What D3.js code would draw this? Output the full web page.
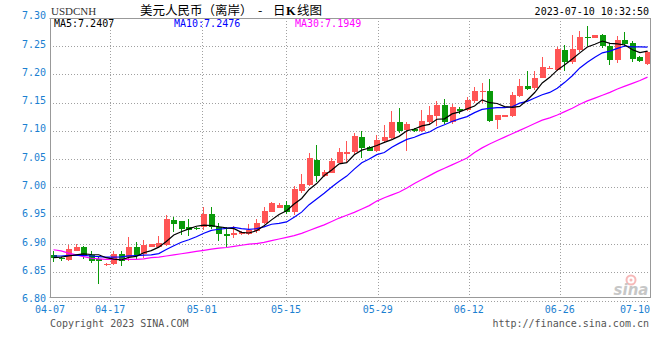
<!DOCTYPE html>
<html><head><meta charset="utf-8">
<script src="https://cdn.jsdelivr.net/npm/d3@7"></script>
<style>body{margin:0;background:#fff}svg{display:block}</style>
</head><body><svg id="c" width="660" height="360"></svg>
<script>
const opens = [6.881,6.875,6.872,6.888,6.894,6.880,6.873,6.864,6.865,6.882,
 6.878,6.895,6.882,6.895,6.895,6.899,6.942,6.940,6.931,6.928,
 6.931,6.953,6.931,6.917,6.916,6.918,6.918,6.924,6.938,6.957,
 6.964,6.969,6.956,6.994,7.005,7.049,7.021,7.026,7.044,7.060,
 7.062,7.090,7.072,7.065,7.082,7.088,7.116,7.102,7.103,7.100,
 7.116,7.126,7.146,7.116,7.139,7.137,7.153,7.168,7.171,7.119,
 7.124,7.126,7.162,7.180,7.175,7.194,7.210,7.208,7.243,7.222,
 7.243,7.266,7.265,7.270,7.250,7.225,7.261,7.256,7.231,7.219];
const highs = [6.888,6.877,6.898,6.900,6.897,6.888,6.879,6.867,6.888,6.887,
 6.913,6.903,6.907,6.900,6.914,6.952,6.948,6.941,6.944,6.930,
 6.965,6.965,6.937,6.930,6.932,6.924,6.935,6.944,6.966,6.975,
 6.972,6.976,7.003,7.024,7.061,7.075,7.031,7.053,7.069,7.082,
 7.096,7.100,7.073,7.093,7.110,7.135,7.141,7.116,7.105,7.137,
 7.144,7.153,7.156,7.148,7.143,7.160,7.178,7.184,7.191,7.128,
 7.128,7.168,7.191,7.205,7.205,7.230,7.214,7.249,7.252,7.269,
 7.277,7.285,7.270,7.272,7.255,7.268,7.275,7.258,7.233,7.242];
const lows = [6.869,6.871,6.871,6.887,6.873,6.866,6.829,6.862,6.863,6.862,
 6.871,6.873,6.875,6.894,6.893,6.897,6.922,6.916,6.914,6.925,
 6.925,6.926,6.906,6.894,6.910,6.916,6.916,6.920,6.935,6.956,
 6.963,6.954,6.952,6.990,7.002,7.010,7.019,7.025,7.043,7.044,
 7.059,7.053,7.064,7.063,7.078,7.085,7.097,7.065,7.098,7.098,
 7.112,7.109,7.113,7.113,7.130,7.136,7.149,7.150,7.116,7.103,
 7.124,7.124,7.160,7.172,7.172,7.193,7.209,7.205,7.205,7.219,
 7.240,7.250,7.264,7.246,7.216,7.220,7.249,7.222,7.222,7.216];
const closes = [6.876,6.873,6.891,6.894,6.879,6.871,6.871,6.865,6.882,6.871,
 6.894,6.879,6.898,6.900,6.902,6.944,6.936,6.927,6.925,6.926,
 6.954,6.931,6.917,6.915,6.920,6.921,6.925,6.938,6.958,6.972,
 6.969,6.957,6.998,7.007,7.052,7.021,7.028,7.046,7.062,7.062,
 7.091,7.069,7.065,7.084,7.090,7.115,7.100,7.112,7.100,7.117,
 7.128,7.146,7.116,7.143,7.135,7.155,7.171,7.170,7.118,7.128,
 7.128,7.163,7.180,7.174,7.194,7.213,7.212,7.244,7.222,7.245,
 7.266,7.264,7.269,7.250,7.225,7.261,7.254,7.227,7.224,7.239];
const ma5 = [6.876,6.877,6.879,6.881,6.8826,6.8816,6.8812,6.8760,6.8736,6.8720,
 6.8766,6.8782,6.8848,6.8884,6.8946,6.9046,6.9160,6.9218,6.9268,6.9316,
 6.9336,6.9326,6.9306,6.9286,6.9274,6.9208,6.9196,6.9238,6.9324,6.9428,
 6.9524,6.9588,6.9708,6.9806,6.9966,7.0070,7.0212,7.0308,7.0418,7.0438,
 7.0578,7.0660,7.0698,7.0742,7.0798,7.0846,7.0908,7.1002,7.1034,7.1088,
 7.1114,7.1206,7.1214,7.1300,7.1336,7.1390,7.1440,7.1548,7.1498,7.1484,
 7.1430,7.1414,7.1434,7.1546,7.1678,7.1848,7.1946,7.2074,7.2170,7.2272,
 7.2378,7.2482,7.2532,7.2588,7.2548,7.2538,7.2518,7.2434,7.2382,7.2410];
const ma10 = [6.879,6.879,6.880,6.880,6.880,6.879,6.878,6.877,6.877,6.8773,
 6.8791,6.8797,6.8804,6.8810,6.8833,6.8906,6.8971,6.9033,6.9076,6.9131,
 6.9191,6.9243,6.9262,6.9277,6.9295,6.9272,6.9261,6.9272,6.9305,6.9351,
 6.9366,6.9392,6.9473,6.9565,6.9697,6.9797,6.9900,7.0008,7.0112,7.0202,
 7.0324,7.0436,7.0503,7.0580,7.0618,7.0712,7.0784,7.0850,7.0888,7.0943,
 7.0980,7.1057,7.1108,7.1167,7.1212,7.1252,7.1323,7.1381,7.1399,7.1410,
 7.1410,7.1427,7.1491,7.1522,7.1581,7.1639,7.1680,7.1754,7.1858,7.1975,
 7.2113,7.2214,7.2303,7.2379,7.2410,7.2458,7.2500,7.2483,7.2485,7.2479];
const ma30 = [6.890,6.888,6.884,6.881,6.878,6.875,6.874,6.873,6.873,6.873,
 6.873,6.873,6.874,6.876,6.877,6.879,6.881,6.883,6.885,6.887,
 6.889,6.891,6.893,6.894,6.896,6.898,6.900,6.901,6.903,6.906,
 6.909,6.912,6.915,6.919,6.924,6.929,6.934,6.940,6.946,6.951,
 6.956,6.962,6.968,6.976,6.982,6.987,6.992,6.999,7.007,7.014,
 7.021,7.028,7.034,7.040,7.046,7.052,7.062,7.070,7.077,7.083,
 7.089,7.095,7.101,7.107,7.113,7.119,7.123,7.128,7.134,7.140,
 7.147,7.153,7.158,7.163,7.168,7.174,7.179,7.184,7.189,7.195];
const yTickValues = [6.80,6.85,6.90,6.95,7.00,7.05,7.10,7.15,7.20,7.25,7.30];
const yTickLabels = ["6.80","6.85","6.90","6.95","7.00","7.05","7.10","7.15","7.20","7.25","7.30"];
const xGridLabels = ["04-17","05-01","05-15","05-29","06-12","06-26"];
const xGridIndex = [7.6,19.8,31.0,43.2,55.3,67.4];
const xFirstLabel = "04-07";
const xLastLabel = "07-10";
const maLabels = ["MA5:7.2407","MA10:7.2476","MA30:7.1949"];
const symbolText = "USDCNH";
const titleParts = ["美元人民币（离岸）", "-", "日", "K", "线图"];
const timeText = "2023-07-10 10:32:50";

const svg = d3.select("#c");
const L = 50, R = 650, T = 18, B = 298;
const n = closes.length;
const x = d3.scaleLinear().domain([-0.4, n - 0.6]).range([L, R]);
const y = d3.scaleLinear().domain([6.80, 7.30]).range([300.7, 17.7]);
const mono = "'DejaVu Sans Mono', monospace";
const axisBlue = "#1b7fd1";

svg.append("rect").attr("width",660).attr("height",360).attr("fill","#fff");

// horizontal grid
svg.append("g").selectAll("line").data(yTickValues.filter(v => v < 7.29)).join("line")
  .attr("x1", L).attr("x2", R)
  .attr("y1", d => Math.round(y(d)) + 0.5).attr("y2", d => Math.round(y(d)) + 0.5)
  .attr("stroke", "#a0a0a0").attr("stroke-dasharray", "1,2");
// vertical grid
svg.append("g").selectAll("line").data(xGridIndex).join("line")
  .attr("x1", d => Math.round(x(d)) + 0.5).attr("x2", d => Math.round(x(d)) + 0.5)
  .attr("y1", T).attr("y2", 301)
  .attr("stroke", "#a0a0a0").attr("stroke-dasharray", "1,2");

// sina watermark
const wm = svg.append("g").attr("opacity", 0.55);
wm.append("circle").attr("cx", 631).attr("cy", 280).attr("r", 4.5).attr("fill", "none").attr("stroke", "#f08080").attr("stroke-width", 2);
wm.append("circle").attr("cx", 631).attr("cy", 280).attr("r", 1.5).attr("fill", "#f08080");
wm.append("text").attr("x", 631).attr("y", 295).attr("text-anchor", "middle")
  .attr("font-family", "'DejaVu Sans', sans-serif").attr("font-size", 15).attr("font-weight", "bold")
  .attr("font-style", "italic").attr("fill", "#9a9a9a").text("sina");

// frame
const frame = svg.append("g").attr("stroke", "#999").attr("fill", "none");
frame.append("line").attr("x1", L - 0.5).attr("x2", R + 0.5).attr("y1", T + 0.5).attr("y2", T + 0.5);
frame.append("line").attr("x1", L - 0.5).attr("x2", R + 0.5).attr("y1", B - 0.5).attr("y2", B - 0.5);
frame.append("line").attr("x1", L + 0.5).attr("x2", L + 0.5).attr("y1", T).attr("y2", B);
frame.append("line").attr("x1", R + 0.5).attr("x2", R + 0.5).attr("y1", T).attr("y2", B);

// clip
svg.append("clipPath").attr("id", "plot").append("rect").attr("x", L + 1).attr("y", T + 1).attr("width", R - L - 1).attr("height", B - T - 2);
const plot = svg.append("g").attr("clip-path", "url(#plot)");

const idx = d3.range(n);
const up = i => closes[i] >= opens[i];
const col = i => up(i) ? "#ff5555" : "#0a9a0a";
const cx = i => Math.round(x(i));

const candles = plot.append("g").attr("shape-rendering", "crispEdges");
candles.selectAll("rect.w").data(idx).join("rect").attr("class", "w")
  .attr("x", i => cx(i)).attr("width", 1)
  .attr("y", i => Math.round(y(highs[i])))
  .attr("height", i => Math.max(1, Math.round(y(lows[i])) - Math.round(y(highs[i]))))
  .attr("fill", col);
candles.selectAll("rect.b").data(idx).join("rect").attr("class", "b")
  .attr("x", i => cx(i) - 2).attr("width", 6)
  .attr("y", i => Math.round(y(Math.max(opens[i], closes[i]))))
  .attr("height", i => Math.max(1, Math.round(y(Math.min(opens[i], closes[i]))) - Math.round(y(Math.max(opens[i], closes[i])))))
  .attr("fill", col);

const lineGen = arr => d3.line().x((d, i) => x(i) + 0.5).y(d => y(d))(arr);
plot.append("path").attr("d", lineGen(ma30)).attr("fill", "none").attr("stroke", "#ff00ff").attr("stroke-width", 1.2);
plot.append("path").attr("d", lineGen(ma10)).attr("fill", "none").attr("stroke", "#0000ff").attr("stroke-width", 1.2);
plot.append("path").attr("d", lineGen(ma5)).attr("fill", "none").attr("stroke", "#000").attr("stroke-width", 1.2);

// y labels
svg.append("g").selectAll("text").data(yTickValues).join("text")
  .attr("x", 46).attr("y", (d) => y(d) + 1.5)
  .attr("text-anchor", "end").attr("font-family", mono).attr("font-size", 10)
  .attr("fill", axisBlue).text((d, i) => yTickLabels[i]);

// x labels
const xl = svg.append("g").attr("font-family", mono).attr("font-size", 10).attr("fill", axisBlue);
xl.append("text").attr("x", x(-0.4)).attr("y", 312.5).attr("text-anchor", "middle").text(xFirstLabel);
xl.selectAll("text.g").data(xGridIndex).join("text").attr("class", "g")
  .attr("x", d => x(d)).attr("y", 312.5).attr("text-anchor", "middle").text((d, i) => xGridLabels[i]);
xl.append("text").attr("x", x(n - 0.6)).attr("y", 312.5).attr("text-anchor", "end").text(xLastLabel);

// header
svg.append("text").attr("x", 51).attr("y", 15).attr("font-family", "'Liberation Serif', serif")
  .attr("font-size", 11).attr("fill", "#333").text(symbolText);
const cjk = "'Noto Sans CJK SC', sans-serif";
const title = svg.append("text").attr("y", 15).attr("font-family", cjk).attr("font-size", 12.5).attr("fill", "#000");
const titleX = [140, 258, 273, 286, 297];
titleParts.forEach((t, i) => {
  title.append("tspan").attr("x", titleX[i])
    .attr("font-weight", t === "K" ? "bold" : null)
    .attr("font-family", t === "K" ? "'Liberation Serif', serif" : null)
    .text(t);
});
svg.append("text").attr("x", 649).attr("y", 15).attr("text-anchor", "end").attr("font-family", mono)
  .attr("font-size", 10).attr("fill", "#000").text(timeText);

// MA legend
const maColors = ["#000", "#0000ff", "#ff00ff"];
const maX = [54, 174, 295];
svg.append("g").selectAll("text").data(maLabels).join("text")
  .attr("x", (d, i) => maX[i]).attr("y", 27).attr("font-family", mono).attr("font-size", 10)
  .attr("fill", (d, i) => maColors[i]).text(d => d);

// footer
svg.append("text").attr("x", 50).attr("y", 327).attr("font-family", mono).attr("font-size", 10)
  .attr("fill", "#555").text("Copyright 2023 SINA.COM");
svg.append("text").attr("x", 649).attr("y", 327).attr("text-anchor", "end").attr("font-family", mono).attr("font-size", 10)
  .attr("fill", "#555").text("http://finance.sina.com.cn");
</script></body></html>
